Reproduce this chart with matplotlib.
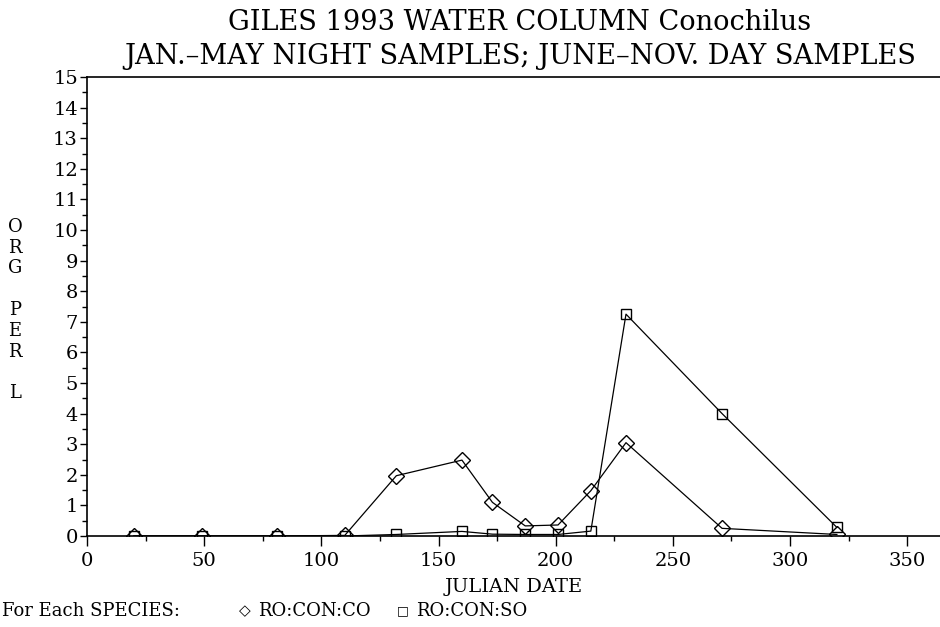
import matplotlib
matplotlib.use('Agg')
import matplotlib.pyplot as plt
from matplotlib.ticker import MultipleLocator

# julian dates of the samples
days = [20, 49, 81, 110, 132, 160, 173, 187, 201, 215, 230, 271, 320]
# RO:CON:CO (diamonds)
con_co = [0, 0, 0, 0.02, 1.97, 2.48, 1.1, 0.33, 0.36, 1.48, 3.05, 0.25, 0.05]
# RO:CON:SO (squares)
con_so = [0, 0, 0, 0, 0.05, 0.15, 0.06, 0.05, 0.05, 0.16, 7.25, 4.0, 0.28]

xticks = [0, 50, 100, 150, 200, 250, 300, 350]
yticks = list(range(0, 16))

serif = 'DejaVu Serif'

fig = plt.figure(figsize=(9.4, 6.27), dpi=100)
ax = fig.add_axes([87/940, 1-536/627, 1-87/940, (536-77)/627])

ax.plot(days, con_co, color='black', lw=0.9, marker='D', ms=8,
        mfc='none', mec='black', mew=1.0)
ax.plot(days, con_so, color='black', lw=0.9, marker='s', ms=7.5,
        mfc='none', mec='black', mew=1.0)

ax.set_xlim(0, 364)
ax.set_ylim(0, 15)
ax.set_xticks(xticks)
ax.set_yticks(yticks)
ax.xaxis.set_minor_locator(MultipleLocator(25))
ax.yaxis.set_minor_locator(MultipleLocator(0.5))
ax.tick_params(axis='x', which='major', length=7, width=1, direction='out',
               labelsize=14, pad=4.5)
ax.tick_params(axis='y', which='major', length=5, width=1, direction='out',
               labelsize=14, pad=1.5)
ax.tick_params(axis='both', which='minor', length=3.5, width=1, direction='out')
for lab in ax.get_xticklabels() + ax.get_yticklabels():
    lab.set_family(serif)
ax.spines['right'].set_visible(False)
for s in ['left', 'top', 'bottom']:
    ax.spines[s].set_linewidth(1.2)

ax.set_xlabel('JULIAN DATE', family=serif, fontsize=14, labelpad=6)

# stacked y label
fig.text(15/940, 1-310/627, 'O\nR\nG\n\nP\nE\nR\n\nL', family=serif,
         fontsize=13, ha='center', va='center', linespacing=1.2)

# title
fig.text(520/940, 1-22/627, 'GILES 1993 WATER COLUMN Conochilus', family=serif,
         fontsize=19.6, ha='center', va='center')
fig.text(520/940, 1-56/627, 'JAN.\u2013MAY NIGHT SAMPLES; JUNE\u2013NOV. DAY SAMPLES',
         family=serif, fontsize=19.6, ha='center', va='center')

# legend line
ly = 1-611/627
fig.text(2/940, ly, 'For Each SPECIES:', family=serif, fontsize=13, va='center')
fig.text(245/940, ly, '\u25c7', family='DejaVu Sans', fontsize=11, ha='center', va='center')
fig.text(258/940, ly, 'RO:CON:CO', family=serif, fontsize=13, va='center')
fig.text(403/940, ly, '\u25a1', family='DejaVu Sans', fontsize=9, ha='center', va='center')
fig.text(416/940, ly, 'RO:CON:SO', family=serif, fontsize=13, va='center')

fig.savefig('out.png', dpi=100)
